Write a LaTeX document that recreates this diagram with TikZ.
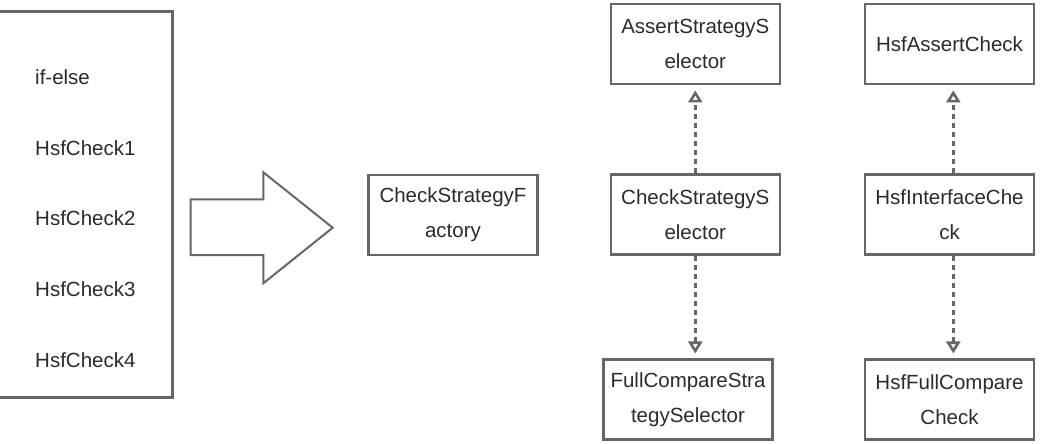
\documentclass[tikz,border=0pt]{standalone}
\usepackage{fontspec}
\setmainfont{Liberation Sans}
\usepackage{tikz}
\usetikzlibrary{arrows.meta}
\definecolor{linegray}{HTML}{666666}
\definecolor{textgray}{HTML}{2B2B2B}

\begin{document}
\begin{tikzpicture}[x=1pt, y=-1pt,
        box/.style={draw=linegray, line width=2.5pt, minimum width=169pt, minimum height=80pt,
            align=center, text=textgray, inner sep=0pt, font=\fontsize{20.5}{35}\selectfont},
        item/.style={anchor=west, text=textgray, inner sep=0pt, font=\fontsize{20.5}{24}\selectfont},
        impl/.style={draw=linegray, line width=2.6pt, dash pattern=on 5pt off 4pt,
            -{Triangle[open, length=12pt, width=14pt]}, shorten >=5pt}]
        \useasboundingbox (0,0) rectangle (1044,444);

        % old code: one big if-else
        \draw[linegray, line width=2.5pt] (-5,11.7) rectangle (172.7,397.7);
        \foreach \t [count=\i] in {if-else,HsfCheck1,HsfCheck2,HsfCheck3,HsfCheck4}
            \node[item] (item\i) at (35, {77+70.7*(\i-1)}) {\t};

        \draw[linegray, line width=2pt, line join=miter] (190.7,199.3) -- (263.3,199.3) -- (263.3,172.3)
            -- (332.7,227.7) -- (263.3,283.3) -- (263.3,255) -- (190.7,255) -- cycle;

        % strategy classes
        \node[box] (factory) at (453,214.8) {CheckStrategyF\\actory};
        \node[box] (assertsel) at (695.3,44.2) {AssertStrategyS\\elector};
        \node[box] (checksel) at (695.3,214.7) {CheckStrategyS\\elector};
        \node[box] (fullsel) at (688,399.7) {FullCompareStra\\tegySelector};
        \node[box] (assertchk) at (949.5,44.2) {HsfAssertCheck};
        \node[box] (ifacechk) at (949.5,214.7) {HsfInterfaceChe\\ck};
        \node[box] (fullchk) at (949.5,399.7) {HsfFullCompare\\Check};

        \draw[impl] (checksel.north) -- (assertsel.south);
        \draw[impl] (checksel.south) -- (checksel.south |- fullsel.north);
        \draw[impl] ([xshift=3.8pt]ifacechk.north) -- ([xshift=3.8pt]assertchk.south);
        \draw[impl] ([xshift=3.8pt]ifacechk.south) -- ([xshift=3.8pt]fullchk.north);
    \end{tikzpicture}
\end{document}
